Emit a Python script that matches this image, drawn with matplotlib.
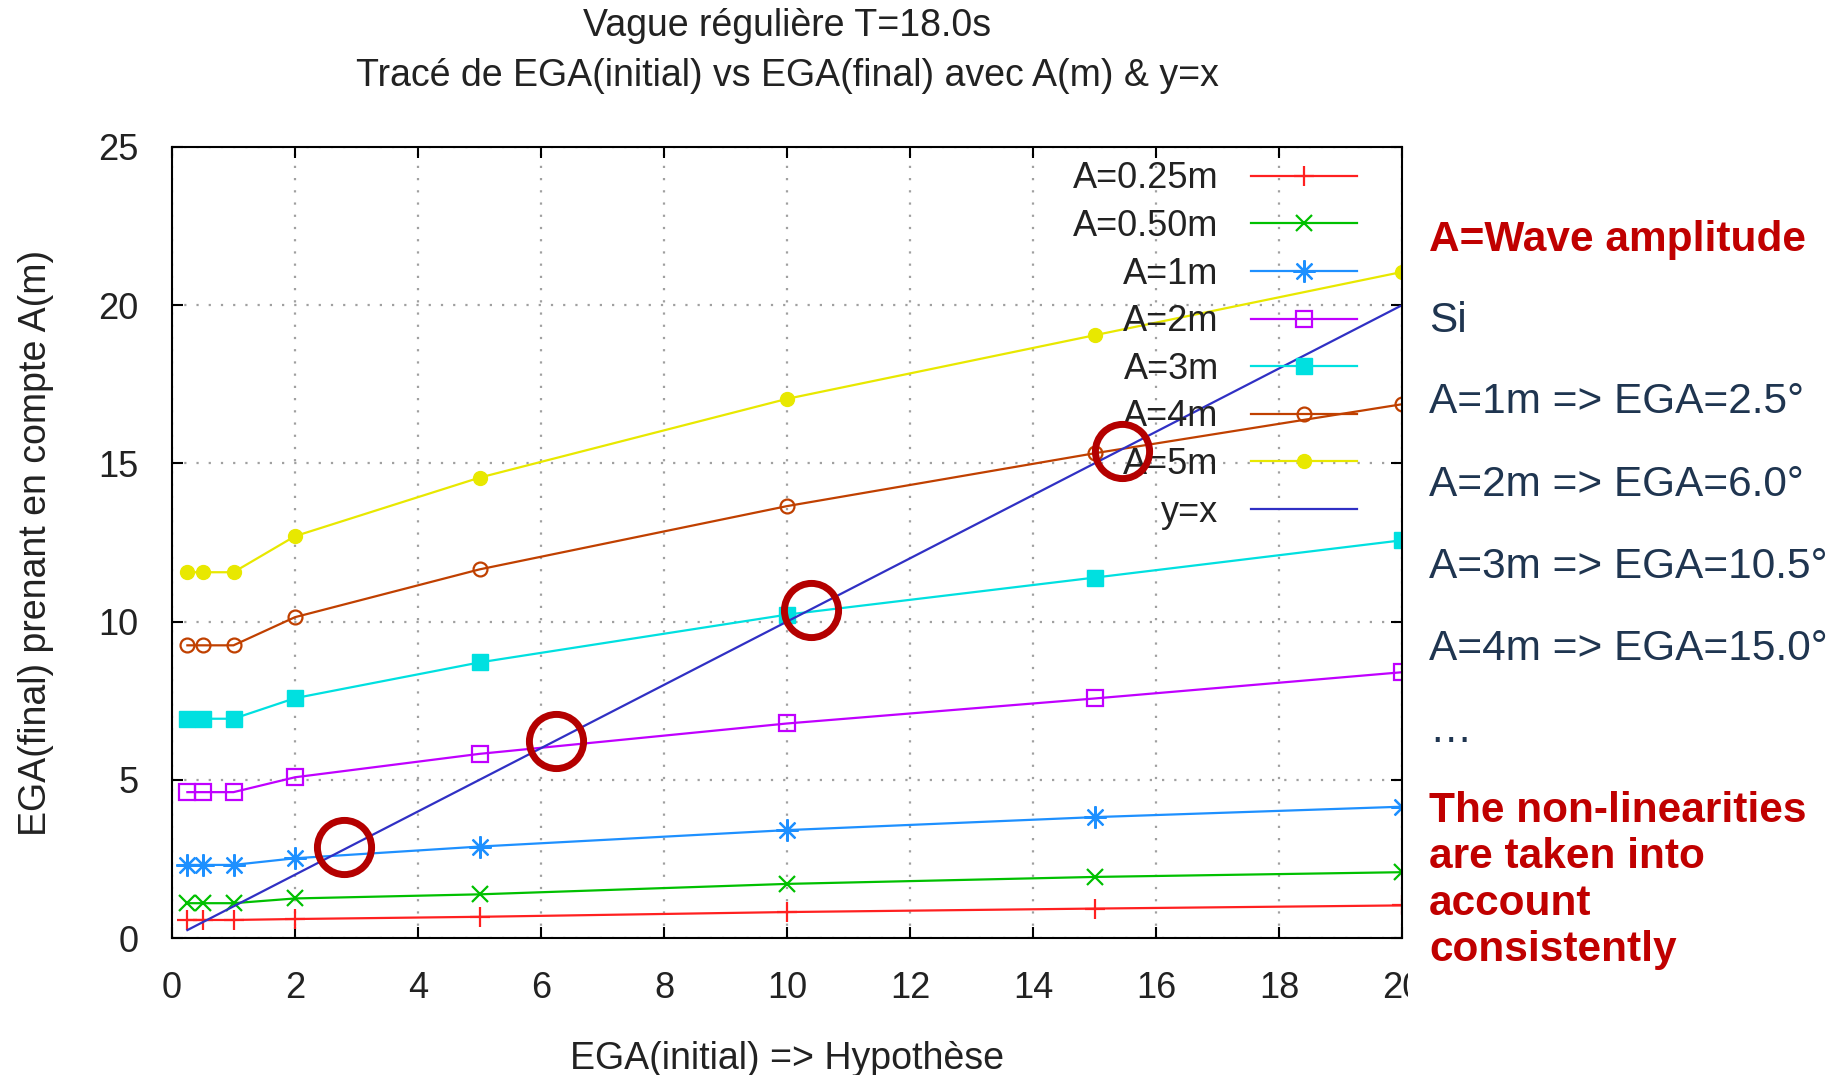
import numpy as np
import matplotlib.pyplot as plt
from matplotlib.patches import Rectangle

plt.rcParams['font.family'] = ['Liberation Sans', 'DejaVu Sans']

# EGA(initial) values used for each run
ega_init = [0.25, 0.5, 1, 2, 5, 10, 15, 20]

# EGA(final) for each wave amplitude
a025 = [0.57, 0.57, 0.57, 0.60, 0.67, 0.82, 0.93, 1.03]
a050 = [1.10, 1.10, 1.10, 1.25, 1.38, 1.71, 1.93, 2.08]
a1 = [2.31, 2.31, 2.31, 2.52, 2.89, 3.41, 3.82, 4.15]
a2 = [4.61, 4.61, 4.61, 5.08, 5.82, 6.78, 7.57, 8.40]
a3 = [6.93, 6.93, 6.93, 7.58, 8.71, 10.22, 11.39, 12.57]
a4 = [9.25, 9.25, 9.25, 10.14, 11.65, 13.65, 15.32, 16.87]
a5 = [11.56, 11.56, 11.56, 12.70, 14.55, 17.04, 19.05, 21.05]

labels = ['A=0.25m', 'A=0.50m', 'A=1m', 'A=2m', 'A=3m', 'A=4m', 'A=5m']

# intersections with y=x highlighted by red circles
cross_x = [2.80, 6.24, 10.39, 15.45]
cross_y = [2.87, 6.22, 10.38, 15.40]

notes = ['Si', 'A=1m => EGA=2.5°', 'A=2m => EGA=6.0°',
         'A=3m => EGA=10.5°', 'A=4m => EGA=15.0°', '…']
conclusion = ['The non-linearities', 'are taken into', 'account', 'consistently']

fig = plt.figure(figsize=(18.45, 10.75), dpi=100)
ax = fig.add_axes([172 / 1845, 137 / 1075, 1230 / 1845, 791 / 1075])

styles = [
    dict(color='#ff2020', marker='+', ms=15, mew=1.6),
    dict(color='#00c000', marker='x', ms=12, mew=1.6),
    dict(color='#1e90ff', marker=(8, 2, 0), ms=16, mew=1.6),
    dict(color='#c000ff', marker='s', ms=12, mew=1.6, mfc='none'),
    dict(color='#00e0e0', marker='s', ms=12),
    dict(color='#c04000', marker='o', ms=10, mew=1.6, mfc='none'),
    dict(color='#e8e800', marker='o', ms=10),
]
series = [a025, a050, a1, a2, a3, a4, a5]
for ys, lab, st in zip(series, labels, styles):
    ax.plot(ega_init, ys, lw=1.6, label=lab, **st)

ax.plot([ega_init[0], ega_init[-1]], [ega_init[0], ega_init[-1]],
        color='#3030c4', lw=1.6, label='y=x')

ax.plot(cross_x, cross_y, 'o', ms=39, mfc='none', mec='#b40000', mew=5,
        clip_on=False, zorder=10)

ax.set_xlim(0, 20)
ax.set_ylim(0, 25)
ax.set_xticks(np.arange(0, 21, 2))
ax.set_yticks(np.arange(0, 26, 5))
ax.grid(True, color='#a0a0a0', linestyle=(0, (1, 4.5)), lw=1.6)
ax.tick_params(direction='in', length=8, width=1.5, top=True, right=True,
               labelsize=26, labelcolor='#222222', pad=24)
for sp in ax.spines.values():
    sp.set_linewidth(1.5)

ax.set_xlabel('EGA(initial) => Hypothèse', fontsize=27, color='#222222', labelpad=25)
ax.set_ylabel('EGA(final) prenant en compte A(m)', fontsize=27, color='#222222', labelpad=32)
ax.set_title('Vague régulière T=18.0s\nTracé de EGA(initial) vs EGA(final) avec A(m) & y=x',
             fontsize=27, color='#222222', pad=44, linespacing=1.5)

leg = ax.legend(loc='upper right', bbox_to_anchor=(0.9634, 0.982), frameon=False,
                fontsize=26, markerfirst=False, handlelength=2.93, handletextpad=0.9,
                labelspacing=0.35, borderpad=0, borderaxespad=0)
for col in leg._legend_handle_box.get_children():
    col.align = 'right'
for t in leg.get_texts():
    t.set_color('#222222')

# white text box on the right, covering the chart edge
fig.patches.append(Rectangle((1408 / 1845, 0), 1 - 1408 / 1845, 1, transform=fig.transFigure,
                             facecolor='white', edgecolor='none', zorder=5))

red = '#c00000'
navy = '#1f3550'
x0 = 1429 / 1845
fig.text(x0, 1 - 251 / 1075, 'A=Wave amplitude', fontsize=30.5, fontweight='bold',
         color=red, va='baseline', zorder=6)
for txt, b in zip(notes, [332, 413, 496, 578, 660, 742]):
    fig.text(x0, 1 - b / 1075, txt, fontsize=30.5, color=navy, va='baseline', zorder=6)
for txt, b in zip(conclusion, [822, 868, 915, 961]):
    fig.text(x0, 1 - b / 1075, txt, fontsize=30.5, fontweight='bold', color=red,
             va='baseline', zorder=6)

fig.savefig('out.png', dpi=100, facecolor='white')
